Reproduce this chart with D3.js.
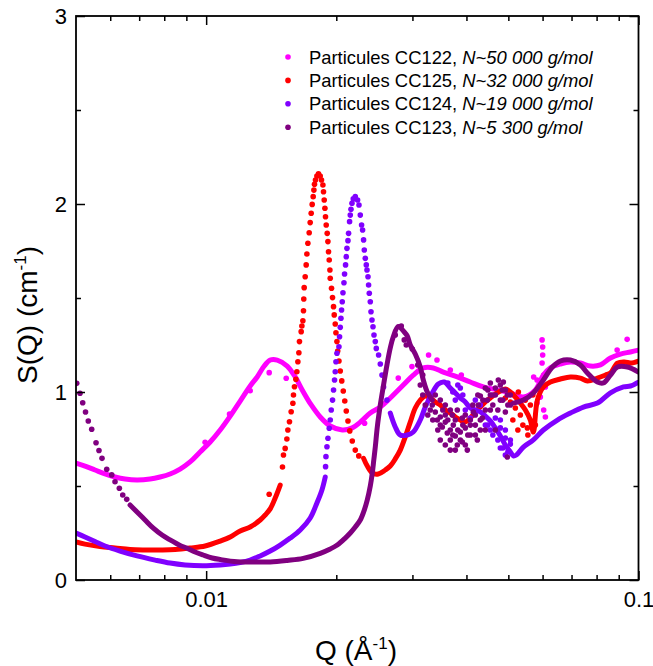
<!DOCTYPE html>
<html><head><meta charset="utf-8">
<script src="https://cdn.jsdelivr.net/npm/d3@7"></script>
<style>body{margin:0;background:#fff}svg{display:block}text{font-family:"Liberation Sans",Arial,sans-serif;fill:#000}</style>
</head><body><svg id="c" width="653" height="666"></svg>
<script>
// ---- data: [Q (1/Å), S(Q)] ----
const cc122Line=[[0.005000,0.622],[0.005246,0.606],[0.005533,0.585],[0.005836,0.564],[0.006155,0.548],[0.006492,0.537],[0.006921,0.532],[0.007418,0.537],[0.007824,0.548],[0.008252,0.564],[0.008704,0.590],[0.009180,0.628],[0.009683,0.681],[0.010216,0.734],[0.010775,0.798],[0.011365,0.872],[0.011987,0.952],[0.012643,1.032],[0.013124,1.080],[0.013622,1.138],[0.014065,1.170],[0.014600,1.170],[0.015399,1.138],[0.016070,1.080],[0.016681,1.011],[0.017501,0.931],[0.018361,0.867],[0.019366,0.819],[0.020645,0.798],[0.021776,0.809],[0.022725,0.840],[0.023969,0.888],[0.025281,0.920],[0.026658,0.968],[0.028570,1.037],[0.030133,1.090],[0.031784,1.128],[0.033524,1.128],[0.035360,1.106],[0.038099,1.080],[0.040832,1.053],[0.043762,1.027],[0.047153,1.011],[0.050536,0.995],[0.054161,0.973],[0.057739,1.011],[0.060254,1.090],[0.062545,1.128],[0.065970,1.149],[0.069582,1.160],[0.073390,1.154],[0.077409,1.138],[0.081647,1.144],[0.086118,1.181],[0.090833,1.202],[0.095806,1.213],[0.1,1.223]];
const cc122Dots=[[0.009945,0.733],[0.011325,0.883],[0.012643,1.007],[0.013990,1.103],[0.015317,1.073],[0.023252,0.834],[0.027819,1.074],[0.029925,1.135],[0.032694,1.197],[0.034191,1.170],[0.036704,1.117],[0.038920,1.090],[0.057218,1.080],[0.058265,1.064],[0.059838,1.277],[0.060030,1.239],[0.060030,1.197],[0.059838,1.154],[0.060350,1.090],[0.060899,1.027],[0.059298,0.973],[0.058265,0.941],[0.060350,0.904],[0.060899,0.867],[0.089249,1.223],[0.094136,1.280]];

const cc125Line=[[0.005000,0.202],[0.005246,0.191],[0.005683,0.178],[0.006155,0.170],[0.006668,0.162],[0.007223,0.160],[0.007824,0.160],[0.008475,0.162],[0.009180,0.170],[0.009945,0.181],[0.010775,0.207],[0.011365,0.229],[0.011987,0.261],[0.012643,0.282],[0.013335,0.319],[0.013695,0.346],[0.014065,0.378],[0.014445,0.436],[0.014835,0.505],null,
[0.023128,0.647],[0.023589,0.606],[0.024226,0.569],[0.025013,0.564],[0.025956,0.585],[0.026658,0.606],[0.027378,0.644],[0.028117,0.691],[0.028876,0.761],[0.029655,0.840],[0.030456,0.915],[0.031280,0.957],[0.032125,0.979],[0.032992,0.968],[0.033883,0.947],[0.034799,0.931],[0.035739,0.904],[0.036704,0.888],[0.037695,0.867],[0.038713,0.851],[0.039758,0.840],[0.040832,0.862],[0.041935,0.894],[0.043068,0.920],[0.044231,0.947],[0.045426,0.968],[0.046652,0.989],[0.047913,1.005],[0.049207,1.016],[0.050536,1.000],[0.051900,0.973],[0.053302,0.941],[0.054741,0.904],[0.056221,0.851],[0.057127,0.787],[0.058358,0.957],[0.060254,1.027],[0.062545,1.053],[0.065970,1.069],[0.069582,1.080],[0.073390,1.074],[0.076180,1.059],[0.080351,1.074],[0.083851,1.090],[0.086118,1.101],[0.089391,1.154],[0.092789,1.160],[0.095806,1.154],[0.1,1.165]];
const cc125Dots=[[0.015016,0.601],[0.015095,0.665],[0.015232,0.700],[0.015371,0.750],[0.015453,0.798],[0.015586,0.842],[0.015727,0.895],[0.015871,0.940],[0.015921,0.984],[0.016006,1.028],[0.016126,1.068],[0.016212,1.108],[0.016299,1.161],[0.016386,1.209],[0.016438,1.268],[0.016588,1.321],[0.016650,1.351],[0.016739,1.379],[0.016793,1.432],[0.016820,1.495],[0.016856,1.555],[0.016946,1.613],[0.017036,1.676],[0.017100,1.734],[0.017191,1.791],[0.017311,1.847],[0.017403,1.901],[0.017496,1.951],[0.017589,1.998],[0.017683,2.039],[0.017750,2.074],[0.017807,2.105],[0.017902,2.128],[0.018036,2.149],[0.018191,2.160],[0.018357,2.149],[0.018484,2.128],[0.018623,2.101],[0.018683,2.065],[0.018753,2.021],[0.018823,1.977],[0.018883,1.932],[0.018954,1.888],[0.019055,1.844],[0.019126,1.800],[0.019188,1.746],[0.019259,1.702],[0.019331,1.649],[0.019363,1.605],[0.019498,1.552],[0.019602,1.502],[0.019707,1.454],[0.019780,1.410],[0.019886,1.362],[0.019960,1.315],[0.020067,1.268],[0.020151,1.218],[0.020285,1.165],[0.020426,1.112],[0.020590,1.059],[0.020756,1.005],[0.020922,0.952],[0.021090,0.899],[0.021282,0.846],[0.021488,0.793],[0.021776,0.739],[0.022127,0.691],[0.022544,0.660],
[0.013988,0.456],[0.053302,0.878],[0.051900,0.915],[0.054741,0.957],[0.050536,0.947],[0.049207,0.968],[0.056221,0.931],[0.055328,0.809],[0.052737,1.000],[0.057739,0.824],[0.051214,0.851],[0.054017,0.824],[0.055475,0.771],[0.052596,0.798],[0.056975,0.984]];

const cc124Line=[[0.005000,0.250],[0.005246,0.229],[0.005533,0.205],[0.005836,0.181],[0.006322,0.154],[0.006921,0.128],[0.007618,0.106],[0.008252,0.090],[0.008939,0.080],[0.009840,0.076],[0.010775,0.080],[0.011365,0.085],[0.011987,0.093],[0.012643,0.106],[0.013335,0.128],[0.014065,0.154],[0.014835,0.186],[0.015648,0.223],[0.016504,0.266],[0.017408,0.330],[0.018041,0.410],[0.018528,0.479],[0.018857,0.548],null,
[0.026658,0.888],[0.027378,0.814],[0.028117,0.771],[0.029186,0.771],[0.030133,0.787],[0.031280,0.851],[0.032125,0.920],[0.033346,0.995],[0.034430,1.043],[0.035549,1.053],[0.036704,1.021],[0.037695,0.995],[0.038713,0.968],[0.039758,0.947],[0.040832,0.915],[0.041935,0.904],[0.043068,0.894],[0.044231,0.872],[0.045426,0.846],[0.046652,0.809],[0.047913,0.766],[0.049207,0.718],[0.050536,0.681],[0.051350,0.660],[0.052177,0.665],[0.054161,0.707],[0.057127,0.745],[0.060254,0.798],[0.064923,0.851],[0.069582,0.888],[0.074573,0.920],[0.080351,0.941],[0.086118,0.995],[0.092297,1.027],[0.095806,1.032],[0.1,1.053]];
const cc124Dots=[[0.018890,0.603],[0.018928,0.656],[0.019029,0.709],[0.019130,0.754],[0.019263,0.807],[0.019366,0.851],[0.019469,0.904],[0.019605,0.957],[0.019710,1.011],[0.019815,1.064],[0.019889,1.108],[0.019963,1.161],[0.020070,1.206],[0.020285,1.241],[0.020350,1.294],[0.020426,1.344],[0.020502,1.392],[0.020568,1.436],[0.020645,1.480],[0.020722,1.528],[0.020833,1.581],[0.020900,1.628],[0.021012,1.676],[0.021090,1.720],[0.021169,1.764],[0.021282,1.805],[0.021351,1.844],[0.021465,1.906],[0.021545,1.941],[0.021626,1.972],[0.021741,2.004],[0.021892,2.027],[0.022127,2.039],[0.022400,2.021],[0.022568,1.995],[0.022725,1.941],[0.022883,1.888],[0.023005,1.862],[0.023128,1.809],[0.023215,1.755],[0.023339,1.711],[0.023464,1.676],[0.023552,1.649],[0.023677,1.613],[0.023753,1.569],[0.023841,1.525],[0.023969,1.480],[0.024059,1.427],[0.024187,1.383],[0.024317,1.347],[0.024446,1.303],[0.024616,1.268],[0.024747,1.232],[0.025053,1.197],[0.025281,1.149],[0.025511,1.090],[0.025722,1.027],[0.026192,0.957],
[0.037695,0.957],[0.038713,1.021],[0.039758,0.904],[0.041935,0.957],[0.044231,0.824],[0.045426,0.798],[0.046652,0.862],[0.047913,0.809],[0.049207,0.755],[0.050536,0.723],[0.047913,0.702],[0.049207,0.665],[0.043068,0.931],[0.040832,0.862],
[0.044824,0.824],[0.046035,0.771],[0.047278,0.745],[0.048556,0.702],[0.049867,0.681],[0.049207,0.798],[0.050536,0.745],[0.047913,0.851],[0.038201,1.037],[0.039232,0.984],[0.037196,1.000],[0.036218,1.048]];

const cc123Line=[[0.006668,0.399],[0.006921,0.362],[0.007223,0.319],[0.007537,0.277],[0.007908,0.239],[0.008252,0.213],[0.008704,0.184],[0.009035,0.169],[0.009428,0.149],[0.009840,0.133],[0.010326,0.117],[0.010775,0.109],[0.011797,0.097],[0.012847,0.096],[0.014065,0.096],[0.015399,0.104],[0.016770,0.115],[0.018361,0.142],[0.019366,0.165],[0.020102,0.186],[0.020978,0.223],[0.021545,0.250],[0.022127,0.282],[0.022725,0.319],[0.023215,0.372],[0.023589,0.426],[0.023969,0.500],[0.024226,0.569],[0.024420,0.638],[0.024616,0.707],[0.024880,0.814],[0.025281,0.931],[0.025722,1.037],[0.026192,1.144],[0.026658,1.234],[0.027088,1.293],[0.027819,1.348],[0.028722,1.319],[0.029186,1.298],[0.029655,1.250],[0.030456,1.202],[0.031280,1.133],[0.031785,1.064],[0.032469,1.000],[0.033346,0.957],null,
[0.051350,0.941],[0.054161,0.957],[0.057127,0.995],[0.060254,1.064],[0.063215,1.133],[0.065970,1.165],[0.069582,1.170],[0.073390,1.144],[0.076180,1.101],[0.080351,1.053],[0.082962,1.048],[0.086118,1.090],[0.089391,1.133],[0.094286,1.133],[0.1,1.106]];
const cc123Dots=[[0.005019,1.046],[0.005108,0.993],[0.005182,0.943],[0.005260,0.894],[0.005338,0.846],[0.005436,0.802],[0.005563,0.730],[0.005651,0.689],[0.005743,0.647],[0.005889,0.589],[0.006048,0.559],[0.006155,0.523],[0.006298,0.488],[0.006413,0.452],[0.006551,0.429],
[0.028722,1.277],[0.029030,1.250],[0.029973,1.229],[0.027378,1.303],[0.028267,1.351],[0.030865,1.144],[0.031699,1.090],
[0.033346,0.931],[0.033883,0.894],[0.034246,0.851],[0.034799,0.867],[0.035172,0.814],[0.035739,0.840],[0.036122,0.782],[0.036704,0.798],[0.036704,0.745],[0.037295,0.824],[0.037695,0.766],[0.038099,0.718],[0.038713,0.787],[0.039128,0.734],[0.039758,0.809],[0.040184,0.691],[0.040832,0.851],[0.040832,0.771],[0.041490,0.894],[0.041935,0.824],[0.042611,0.931],[0.043068,0.979],[0.043530,0.862],[0.044231,1.021],[0.044705,0.957],[0.045426,1.048],[0.045426,0.904],[0.045913,0.984],[0.046652,1.021],[0.046652,0.798],[0.047405,1.064],[0.047913,0.957],[0.048427,1.011],[0.048685,1.053],[0.049207,0.894],[0.049734,0.654],[0.049734,0.984],[0.050536,0.931],[0.038099,0.904],[0.035739,0.931],[0.034799,0.957],[0.039128,0.862],[0.037097,0.878],[0.042385,0.745],[0.044231,0.798],
[0.031280,1.037],[0.031699,0.984],[0.032125,0.931],[0.032556,0.878],[0.032992,0.904],[0.033434,0.851],[0.033883,0.984],[0.034337,0.798],[0.034799,0.824],[0.035266,0.904],[0.035739,0.878],[0.036218,0.851],[0.036704,0.904],[0.037196,0.771],[0.037695,0.851],[0.038201,0.798],[0.038713,0.745],[0.039232,0.824],[0.039758,0.878],[0.040291,0.771],[0.040832,0.824],[0.041380,0.931],[0.041935,0.878],[0.042497,0.984],[0.043068,0.851],[0.043646,0.957],[0.044231,0.904],[0.044824,1.011],[0.045426,0.984],[0.046035,0.931],[0.046652,0.984],[0.047278,0.904],[0.047913,1.037],[0.048556,0.957],[0.049207,1.011],[0.049867,0.931],[0.050536,0.984],[0.035739,0.718],[0.037695,0.691],[0.039758,0.718],[0.043068,0.798],[0.041935,0.771],[0.034799,0.745],[0.036704,0.691]];

const xMajor=[0.01,0.1];
const xMinor=[0.006,0.007,0.008,0.009,0.02,0.03,0.04,0.05,0.06,0.07,0.08,0.09];
const yMajor=[0,1,2,3];
const yMinor=[0.5,1.5,2.5];
const seriesNames=["Particules CC122, ","Particules CC125, ","Particules CC124, ","Particules CC123, "];
const seriesMass=["N~50 000 g/mol","N~32 000 g/mol","N~19 000 g/mol","N~5 300 g/mol"];
const colors=["#ff00ff","#ff0000","#8000ff","#800080"];
const lines=[cc122Line,cc125Line,cc124Line,cc123Line];
const dots=[cc122Dots,cc125Dots,cc124Dots,cc123Dots];

// ---- chart ----
const svg=d3.select("#c");
const L=76,R=638.5,T=16,B=580;
const x=d3.scaleLog().domain([0.005,0.1]).range([L,R]);
const y=d3.scaleLinear().domain([0,3]).range([B,T]);

svg.append("defs").append("clipPath").attr("id","clip").append("rect")
  .attr("x",L).attr("y",T).attr("width",R-L).attr("height",B-T);

const plot=svg.append("g").attr("clip-path","url(#clip)");
const line=d3.line().defined(d=>d!==null).x(d=>x(d[0])).y(d=>y(d[1])).curve(d3.curveCatmullRom);
lines.forEach((ln,i)=>{
  const g=plot.append("g");
  g.append("path").attr("d",line(ln)).attr("fill","none").attr("stroke",colors[i])
    .attr("stroke-width",5).attr("stroke-linejoin","round").attr("stroke-linecap","round");
  g.selectAll("circle").data(dots[i]).join("circle")
    .attr("cx",d=>x(d[0])).attr("cy",d=>y(d[1])).attr("r",2.8).attr("fill",colors[i]);
});

function styleAxis(g,labels){
  g.select(".domain").remove();
  g.selectAll(".tick line").attr("stroke","#000").attr("stroke-width",1.5);
  g.selectAll(".tick text").attr("font-size",22).attr("fill","#000");
  if(!labels) g.selectAll(".tick text").remove();
}
const fmtX=d=>d===0.1?"0.1":"0.01";
styleAxis(svg.append("g").attr("transform",`translate(0,${B})`)
  .call(d3.axisBottom(x).tickValues(xMajor).tickSizeInner(-9).tickSizeOuter(0).tickPadding(11).tickFormat(fmtX)),true);
styleAxis(svg.append("g").attr("transform",`translate(0,${B})`)
  .call(d3.axisBottom(x).tickValues(xMinor).tickSizeInner(-5).tickSizeOuter(0).tickFormat("")),false);
styleAxis(svg.append("g").attr("transform",`translate(0,${T})`)
  .call(d3.axisTop(x).tickValues(xMajor).tickSizeInner(-9).tickSizeOuter(0).tickFormat("")),false);
styleAxis(svg.append("g").attr("transform",`translate(0,${T})`)
  .call(d3.axisTop(x).tickValues(xMinor).tickSizeInner(-5).tickSizeOuter(0).tickFormat("")),false);
styleAxis(svg.append("g").attr("transform",`translate(${L},0)`)
  .call(d3.axisLeft(y).tickValues(yMajor).tickSizeInner(-9).tickSizeOuter(0).tickPadding(9).tickFormat(d3.format("d"))),true);
styleAxis(svg.append("g").attr("transform",`translate(${L},0)`)
  .call(d3.axisLeft(y).tickValues(yMinor).tickSizeInner(-5).tickSizeOuter(0).tickFormat("")),false);
styleAxis(svg.append("g").attr("transform",`translate(${R},0)`)
  .call(d3.axisRight(y).tickValues(yMajor).tickSizeInner(-9).tickSizeOuter(0).tickFormat("")),false);
styleAxis(svg.append("g").attr("transform",`translate(${R},0)`)
  .call(d3.axisRight(y).tickValues(yMinor).tickSizeInner(-5).tickSizeOuter(0).tickFormat("")),false);

svg.append("rect").attr("x",L).attr("y",T).attr("width",R-L).attr("height",B-T)
  .attr("fill","none").attr("stroke","#000").attr("stroke-width",1.8);

// axis titles
const xt=svg.append("text").attr("x",356).attr("y",660).attr("text-anchor","middle").attr("font-size",28);
xt.append("tspan").text("Q (Å");
xt.append("tspan").attr("font-size",17).attr("dy",-11).text("-1");
xt.append("tspan").attr("dy",11).text(")");
const yt=svg.append("text").attr("transform","translate(37,315) rotate(-90)").attr("text-anchor","middle").attr("font-size",28);
yt.append("tspan").text("S(Q) (cm");
yt.append("tspan").attr("font-size",17).attr("dy",-11).text("-1");
yt.append("tspan").attr("dy",11).text(")");

// legend
const leg=svg.append("g");
seriesNames.forEach((n,i)=>{
  const yy=57+i*23.4;
  leg.append("circle").attr("cx",288).attr("cy",yy).attr("r",2.8).attr("fill",colors[i]);
  const t=leg.append("text").attr("x",309).attr("y",yy+6.5).attr("font-size",18.4);
  t.append("tspan").text(n);
  t.append("tspan").attr("font-style","italic").text(seriesMass[i]);
});
</script></body></html>
